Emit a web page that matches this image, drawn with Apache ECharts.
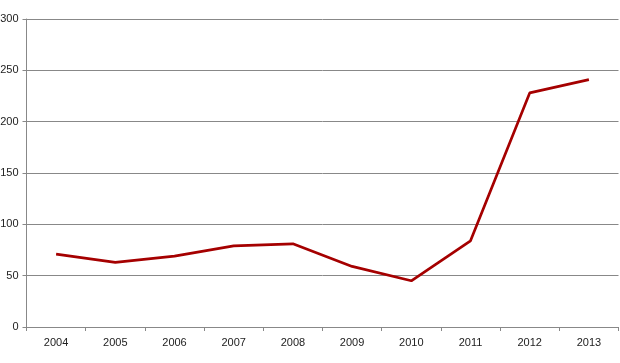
<!DOCTYPE html>
<html><head><meta charset="utf-8">
<script src="https://cdn.jsdelivr.net/npm/echarts@6/dist/echarts.min.js"></script>
<style>html,body{margin:0;padding:0;background:#fff}#c{width:620px;height:363px}</style>
</head><body><div id="c"></div>
<script>
const categories = ['2004','2005','2006','2007','2008','2009','2010','2011','2012','2013'];
const values = [71, 63, 69, 79, 81, 59, 45, 84, 228, 241];
const yTicks = [0, 50, 100, 150, 200, 250, 300];

const chart = echarts.init(document.getElementById('c'), null, {renderer:'canvas'});
chart.setOption({
  animation:false,
  grid:{left:26.5, right:1.5, top:19, bottom:36, containLabel:false, outerBoundsMode:'none'},
  xAxis:{
    type:'category', data:categories, boundaryGap:true,
    axisLine:{lineStyle:{color:'#888', width:1}},
    axisTick:{show:true, length:4, lineStyle:{color:'#888'}},
    axisLabel:{color:'#222', fontFamily:'Liberation Sans, Arial', fontSize:11, margin:10}
  },
  yAxis:{
    type:'value', min:yTicks[0], max:yTicks[yTicks.length-1], interval:50,
    axisLine:{show:true, lineStyle:{color:'#888', width:1}},
    axisTick:{show:true, length:4, lineStyle:{color:'#888'}},
    axisLabel:{color:'#222', fontFamily:'Liberation Sans, Arial', fontSize:11, margin:8},
    splitLine:{show:true, lineStyle:{color:'#888', width:1}}
  },
  series:[{
    type:'line', data:values, symbol:'none',
    lineStyle:{color:'#a50000', width:2.7}
  }]
});
</script></body></html>
